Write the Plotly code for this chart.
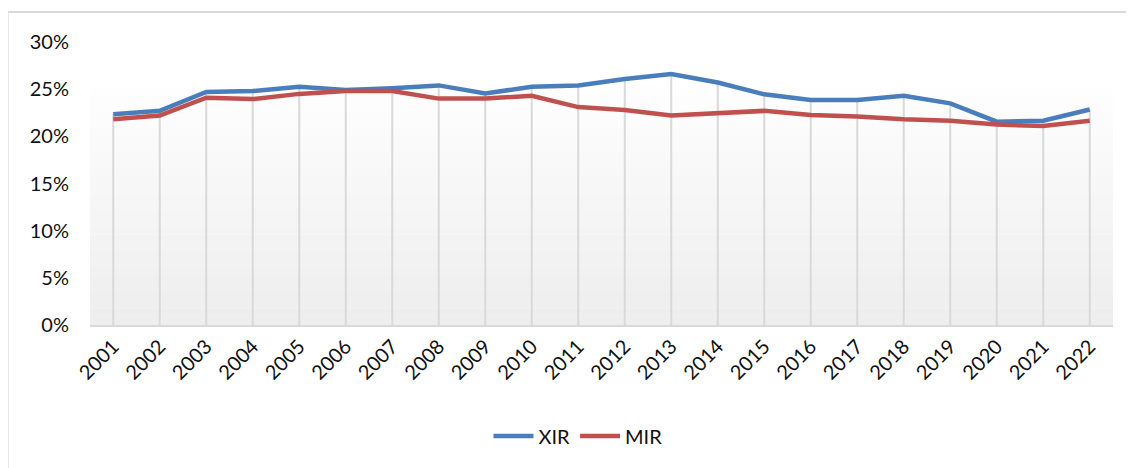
import plotly.graph_objects as go

years = [str(y) for y in range(2001, 2023)]
xir = [0.2235, 0.2270, 0.2470, 0.2480, 0.2525, 0.2490, 0.2510, 0.2540, 0.2455, 0.2525, 0.2540,
       0.2607, 0.2660, 0.2570, 0.2445, 0.2385, 0.2385, 0.2430, 0.2350, 0.2155, 0.2165, 0.2285]
mir = [0.2180, 0.2220, 0.2410, 0.2395, 0.2450, 0.2480, 0.2480, 0.2400, 0.2400, 0.2430, 0.2310,
       0.2280, 0.2220, 0.2250, 0.2270, 0.2225, 0.2210, 0.2180, 0.2165, 0.2125, 0.2110, 0.2165]

GRID = "#d9d9d9"
BLUE = "#4a7ebb"
RED = "#c0504d"

# drop lines from the higher series down to the axis
top = [max(a, b) for a, b in zip(xir, mir)]
drops = go.Scatter(
    x=years, y=top, mode="markers", marker=dict(size=0.1, opacity=0),
    error_y=dict(type="data", symmetric=False, array=[0] * len(top), arrayminus=top,
                 color=GRID, thickness=2, width=0),
    showlegend=False, hoverinfo="skip",
)

trace1 = go.Scatter(x=years, y=xir, name="XIR", mode="lines",
                    line=dict(color=BLUE, width=4.5))
trace2 = go.Scatter(x=years, y=mir, name="MIR", mode="lines",
                    line=dict(color=RED, width=4.5))

fig = go.Figure(data=[drops, trace1, trace2])

# soft vertical gradient in the plot area
shapes = []
n = 30
for i in range(n):
    g = int(255 - 17 * (1 - i / (n - 1)))
    shapes.append(dict(type="rect", xref="paper", yref="paper",
                       x0=0, x1=1, y0=i / n * 0.87, y1=(i + 1) / n * 0.87 + 0.001,
                       fillcolor=f"rgb({g},{g},{g})", line=dict(width=0), layer="below"))
# chart border (top and left only visible)
shapes.append(dict(type="line", xref="paper", yref="paper", x0=-0.0805, x1=1.04,
                   y0=1.106, y1=1.106, line=dict(color=GRID, width=2)))
shapes.append(dict(type="line", xref="paper", yref="paper", x0=-0.0805, x1=-0.0805,
                   y0=-0.55, y1=1.106, line=dict(color=GRID, width=2)))

# the page adds an 8px body margin, so margins are trimmed by 8px
fig.update_layout(
    width=1134, height=468,
    margin=dict(l=82, r=29, t=34, b=151),
    paper_bgcolor="white", plot_bgcolor="white",
    font=dict(family="Lato, Carlito, Calibri, sans-serif", size=20, color="#111111"),
    shapes=shapes,
    showlegend=True,
    legend=dict(orientation="h", x=0.477, xanchor="center", y=-0.392, yanchor="middle",
                font=dict(size=20), itemwidth=40),
)
fig.update_xaxes(
    type="category", range=[-0.5, 21.5], showgrid=False,
    showline=True, linecolor=GRID, linewidth=2,
    tickangle=-45, ticks="", tickfont=dict(size=20),
)
fig.update_yaxes(
    range=[0, 0.30], dtick=0.05, tickformat=".0%", showgrid=False,
    zeroline=False, showline=False, ticklabelstandoff=20, tickfont=dict(size=20),
)

fig.write_html("out.html")
